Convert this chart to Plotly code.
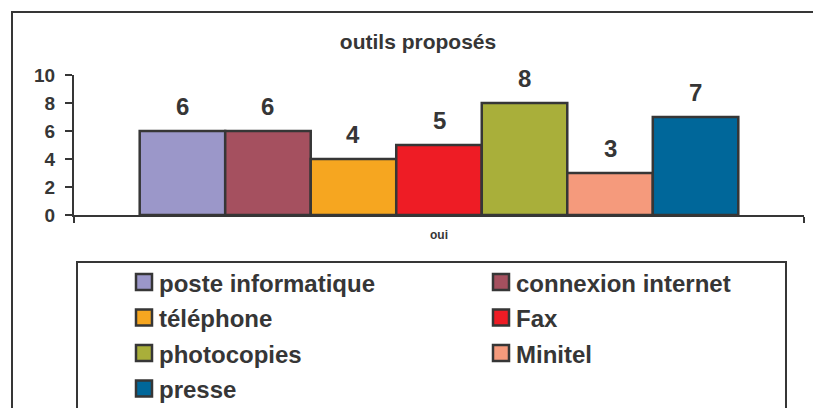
import plotly.graph_objects as go

# Survey data: tools offered, answers "oui"
category = "oui"
tools = ["poste informatique", "connexion internet", "téléphone", "Fax",
         "photocopies", "Minitel", "presse"]
counts = [6, 6, 4, 5, 8, 3, 7]
colors = ["#9B97C9", "#A5505F", "#F6A620", "#EE1C25",
          "#A9AF3A", "#F59A7C", "#00679A"]
y_ticks = [0, 2, 4, 6, 8, 10]

W, H = 813, 408
INK = "#363636"
FONT = "Liberation Sans, Arial, sans-serif"

# plot-area geometry in pixels
L, R, T, B = 74, 804, 75, 215
bar_gap = 0.18
n = len(tools)
span = n / (1 - bar_gap)
mid = (n - 1) / 2
x_lo, x_hi = mid - span / 2, mid + span / 2


def px_x(p):
    return (p - L) / (R - L)


def px_y(p):
    return (B - p) / (B - T)


def frame_path(points):
    return "M " + " L ".join(f"{px_x(a):.5f},{px_y(b):.5f}" for a, b in points)


fig = go.Figure()
for i, (name, val, col) in enumerate(zip(tools, counts, colors)):
    fig.add_trace(go.Bar(
        x=[i], y=[val], name=name, width=1,
        marker=dict(color=col, line=dict(color=INK, width=2.5)),
        showlegend=False,
    ))
    fig.add_annotation(
        x=i, y=val, text=f"<b>{val}</b>", showarrow=False,
        yshift=25, yanchor="middle",
        font=dict(family=FONT, size=24, color=INK),
    )

# outer chart frame (left and top edges) and legend frame
fig.add_shape(type="path", xref="paper", yref="paper",
              path=frame_path([(12, 420), (12, 12), (813, 12)]),
              line=dict(color=INK, width=2), layer="below")
fig.add_shape(type="path", xref="paper", yref="paper",
              path=frame_path([(77, 420), (77, 262), (786, 262), (786, 420)]),
              line=dict(color=INK, width=2), layer="below")

# legend entries, two columns
col_swatch = [136, 493]
row_y = [282, 317.5, 353, 388.5]
sw = 16
for i, (name, col) in enumerate(zip(tools, colors)):
    cx = col_swatch[i % 2]
    cy = row_y[i // 2]
    fig.add_shape(type="rect", xref="paper", yref="paper",
                  x0=px_x(cx), x1=px_x(cx + sw),
                  y0=px_y(cy + sw / 2), y1=px_y(cy - sw / 2),
                  fillcolor=col, line=dict(color=INK, width=2.5))
    fig.add_annotation(xref="paper", yref="paper",
                       x=px_x(cx + sw + 5), y=px_y(cy + 1),
                       xanchor="left", yanchor="middle", showarrow=False,
                       text=f"<b>{name}</b>",
                       font=dict(family=FONT, size=24, color=INK))

fig.update_layout(
    width=W, height=H, autosize=False,
    margin=dict(l=L, r=W - R, t=T, b=H - B, pad=0),
    paper_bgcolor="white", plot_bgcolor="white",
    barmode="overlay",
    title=dict(text="<b>outils proposés</b>", xref="paper", x=px_x(418),
               xanchor="center", yref="container", y=1 - 42 / H,
               yanchor="middle",
               font=dict(family=FONT, size=21, color=INK)),
    font=dict(family=FONT, color=INK),
)
fig.update_xaxes(
    range=[x_lo, x_hi], showgrid=False, zeroline=False,
    showline=True, linecolor=INK, linewidth=2,
    tickvals=[mid], ticktext=[f"<b>{category}</b>"], ticks="",
    tickfont=dict(family=FONT, size=12, color=INK),
    ticklabelstandoff=8,
    minor=dict(tickvals=[x_lo, x_hi], ticks="outside", ticklen=6,
               tickcolor=INK, tickwidth=2),
)
fig.update_yaxes(
    range=[0, 10], tickvals=y_ticks,
    ticktext=[f"<b>{t}</b>" for t in y_ticks],
    showgrid=False, zeroline=False,
    showline=True, linecolor=INK, linewidth=2,
    ticks="outside", ticklen=7, tickcolor=INK, tickwidth=2,
    tickfont=dict(family=FONT, size=19, color=INK),
    ticklabelstandoff=6,
)

fig.write_html("out.html")
